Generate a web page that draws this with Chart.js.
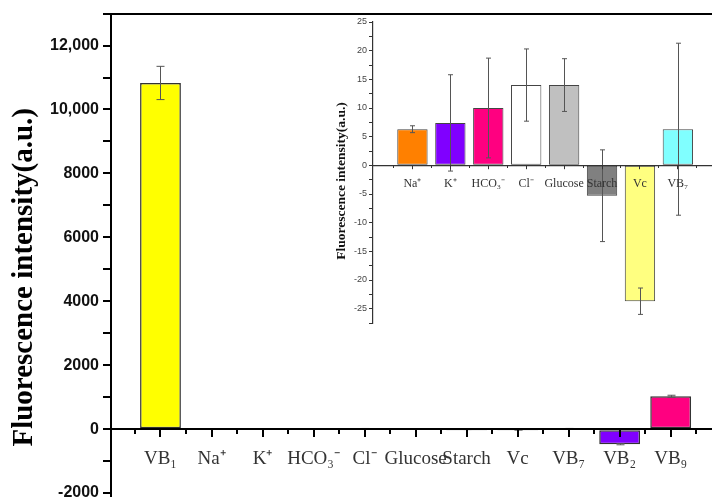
<!DOCTYPE html>
<html><head><meta charset="utf-8">
<script src="https://cdn.jsdelivr.net/npm/chart.js@4.4.1/dist/chart.umd.min.js"></script>
<style>
html,body{margin:0;padding:0;overflow:hidden;background:#fff;width:712px;height:497px;}
#wrap{position:relative;width:712px;height:497px;overflow:hidden;background:#fff;}
#main{position:absolute;left:0;top:0;}
#inset{position:absolute;left:300px;top:0;}
</style></head><body>
<div id="wrap">
<canvas id="main" width="712" height="560"></canvas>
<canvas id="inset" width="412" height="340"></canvas>
</div>
<script>
// ---- main chart data ----
const categories = ['VB₁','Na⁺','K⁺','HCO₃⁻','Cl⁻','Glucose','Starch','Vc','VB₇','VB₂','VB₉'];
const mainValues = [10830, 6.3, 7.4, 10, 14, 14, -5.3, -23.7, 6.3, -470, 1030];
const mainErrors = [520, 0.6, 8.4, 8.7, 6.3, 4.6, 8, 2.3, 15, 20, 30];
const mainColors = ['#FFFF00','#FF8000','#8000FF','#FF0080','#FFFFFF','#C0C0C0','#808080','#FFFF80','#80FFFF','#8000FF','#FF0080'];
const mainYTickValues = [-2000, 0, 2000, 4000, 6000, 8000, 10000, 12000];
const mainYTickLabels = ['-2000', '0', '2000', '4000', '6000', '8000', '10,000', '12,000'];

// ---- inset chart data ----
const insetCategories = ['Na⁺','K⁺','HCO₃⁻','Cl⁻','Glucose','Starch','Vc','VB₇'];
const insetValues = [6.3, 7.4, 10, 14, 14, -5.3, -23.7, 6.3];
const insetErrors = [0.6, 8.4, 8.7, 6.3, 4.6, 8, 2.3, 15];
const insetColors = ['#FF8000','#8000FF','#FF0080','#FFFFFF','#C0C0C0','#808080','#FFFF80','#80FFFF'];
const insetYTickValues = [-25, -20, -15, -10, -5, 0, 5, 10, 15, 20, 25];
const insetYTickLabels = ['-25', '-20', '-15', '-10', '-5', '0', '5', '10', '15', '20', '25'];

const SERIF = "'Liberation Serif', 'Times New Roman', serif";
const SANS = "'Liberation Sans', Arial, sans-serif";

function steps(from, to, step) {
  const out = [];
  for (let k = 0; from + k * step <= to + 1e-9; k++) out.push({value: +(from + k * step).toFixed(6)});
  return out;
}
const setTicks = list => s => { s.ticks = list.map(t => ({value: t.value})); };

const errorBars = {
  id: 'errorBars',
  afterDatasetsDraw(chart, args, opts) {
    const ctx = chart.ctx;
    const meta = chart.getDatasetMeta(0);
    const ys = chart.scales.y;
    const ds = chart.data.datasets[0].data;
    ctx.save();
    ctx.strokeStyle = opts.color;
    ctx.lineWidth = 1;
    meta.data.forEach((bar, i) => {
      const v = ds[i].y, e = opts.errors[i];
      const x = Math.round(bar.x) + 0.5;
      const yt = ys.getPixelForValue(v + e), yb = ys.getPixelForValue(v - e);
      ctx.beginPath();
      ctx.moveTo(x, yt); ctx.lineTo(x, yb);
      ctx.moveTo(x - opts.cap, yt); ctx.lineTo(x + opts.cap, yt);
      ctx.moveTo(x - opts.cap, yb); ctx.lineTo(x + opts.cap, yb);
      ctx.stroke();
    });
    ctx.restore();
  }
};

// main chart
const MX = {min: -0.97, max: 10.81};
new Chart(document.getElementById('main'), {
  type: 'bar',
  data: {
    datasets: [{
      data: mainValues.map((v, i) => ({x: i, y: v})),
      backgroundColor: mainColors,
      borderColor: '#333',
      borderWidth: 1.5,
      borderSkipped: false,
      barPercentage: 0.8,
      categoryPercentage: 1,
      xAxisID: 'x', yAxisID: 'y'
    }]
  },
  plugins: [errorBars],
  options: {
    responsive: false, animation: false,
    layout: {padding: {top: 13, left: 0, right: 0, bottom: 19}},
    plugins: {
      legend: {display: false}, tooltip: {enabled: false},
      errorBars: {errors: mainErrors, color: '#555', cap: 4}
    },
    scales: {
      x: {
        type: 'linear', bounds: 'data', offset: false, position: {y: 0}, min: MX.min, max: MX.max,
        afterBuildTicks: setTicks(categories.map((c, i) => ({value: i}))),
        ticks: {autoSkip: false, maxRotation: 0, minRotation: 0,
          callback: v => categories[v] !== undefined ? categories[v] : '',
          font: {family: SERIF, size: 19}, color: '#333', padding: 11, z: 1},
        grid: {offset: false, drawOnChartArea: false, drawTicks: true, tickLength: 7, color: '#000', lineWidth: 2, z: 1},
        border: {display: true, color: '#000', width: 2, z: 1}
      },
      xMinor: {
        type: 'linear', bounds: 'data', offset: false, position: {y: 0}, min: MX.min, max: MX.max,
        afterBuildTicks: setTicks(steps(-0.5, 10.5, 0.5)),
        ticks: {autoSkip: false, maxRotation: 0, minRotation: 0, callback: () => '', z: 1},
        grid: {offset: false, drawOnChartArea: false, drawTicks: true, tickLength: 5, color: '#000', lineWidth: 2, z: 1},
        border: {display: false}
      },
      xTop: {
        type: 'linear', bounds: 'data', offset: false, position: 'top', min: MX.min, max: MX.max,
        afterFit: s => { s.height = 0; },
        ticks: {display: false}, grid: {display: false},
        border: {display: true, color: '#000', width: 2}
      },
      y: {
        type: 'linear', bounds: 'data', min: -3500, max: 13000,
        afterFit: s => { s.width = 111; },
        afterBuildTicks: setTicks(steps(-3000, 13000, 1000)),
        ticks: {autoSkip: false,
          callback: v => { const i = mainYTickValues.indexOf(v); return i >= 0 ? mainYTickLabels[i] : ''; },
          font: {family: SANS, size: 16, weight: 'bold'}, color: '#111', padding: 4},
        grid: {drawOnChartArea: false, tickLength: 8, color: '#000', lineWidth: 2},
        border: {color: '#000', width: 2},
        title: {display: true, text: 'Fluorescence intensity(a.u.)',
          font: {family: SERIF, size: 29, weight: 'bold'}, color: '#000', padding: {top: 7, bottom: 0}}
      }
    }
  }
});

// inset chart
const IX = {min: -1.04, max: 7.9};
new Chart(document.getElementById('inset'), {
  type: 'bar',
  data: {
    datasets: [{
      data: insetValues.map((v, i) => ({x: i, y: v})),
      backgroundColor: insetColors,
      borderColor: '#444',
      borderWidth: 1,
      borderSkipped: false,
      barPercentage: 0.8,
      categoryPercentage: 1,
      xAxisID: 'x', yAxisID: 'y'
    }]
  },
  plugins: [errorBars],
  options: {
    responsive: false, animation: false,
    layout: {padding: {top: 22, left: 0, right: 0, bottom: 17}},
    plugins: {
      legend: {display: false}, tooltip: {enabled: false},
      errorBars: {errors: insetErrors, color: '#555', cap: 2.5}
    },
    scales: {
      x: {
        type: 'linear', bounds: 'data', offset: false, position: {y: 0}, min: IX.min, max: IX.max,
        afterBuildTicks: setTicks(insetCategories.map((c, i) => ({value: i}))),
        ticks: {autoSkip: false, maxRotation: 0, minRotation: 0,
          callback: v => insetCategories[v] !== undefined ? insetCategories[v] : '',
          font: {family: SERIF, size: 12}, color: '#333', padding: 8, z: 1},
        grid: {offset: false, drawOnChartArea: false, drawTicks: true, tickLength: 3, color: '#333', lineWidth: 1, z: 1},
        border: {display: true, color: '#333', width: 1.2, z: 1}
      },
      xMinor: {
        type: 'linear', bounds: 'data', offset: false, position: {y: 0}, min: IX.min, max: IX.max,
        afterBuildTicks: setTicks(steps(-0.5, 7.5, 0.5)),
        ticks: {autoSkip: false, maxRotation: 0, minRotation: 0, callback: () => '', z: 1},
        grid: {offset: false, drawOnChartArea: false, drawTicks: true, tickLength: 3, color: '#333', lineWidth: 1, z: 1},
        border: {display: false}
      },
      y: {
        type: 'linear', bounds: 'data', min: -27.5, max: 25,
        afterFit: s => { s.width = 73; },
        afterBuildTicks: setTicks(steps(-27.5, 25, 2.5)),
        ticks: {autoSkip: false,
          callback: v => { const i = insetYTickValues.indexOf(v); return i >= 0 ? insetYTickLabels[i] : ''; },
          font: {family: SANS, size: 9}, color: '#444', padding: 2},
        grid: {drawOnChartArea: false, tickLength: 4, color: '#333', lineWidth: 1},
        border: {color: '#333', width: 1.2},
        title: {display: true, text: 'Fluorescence intensity(a.u.)     ',
          font: {family: SERIF, size: 13.5, weight: 'bold'}, color: '#111', padding: {top: 33, bottom: 0}}
      }
    }
  }
});
</script>
</body></html>
